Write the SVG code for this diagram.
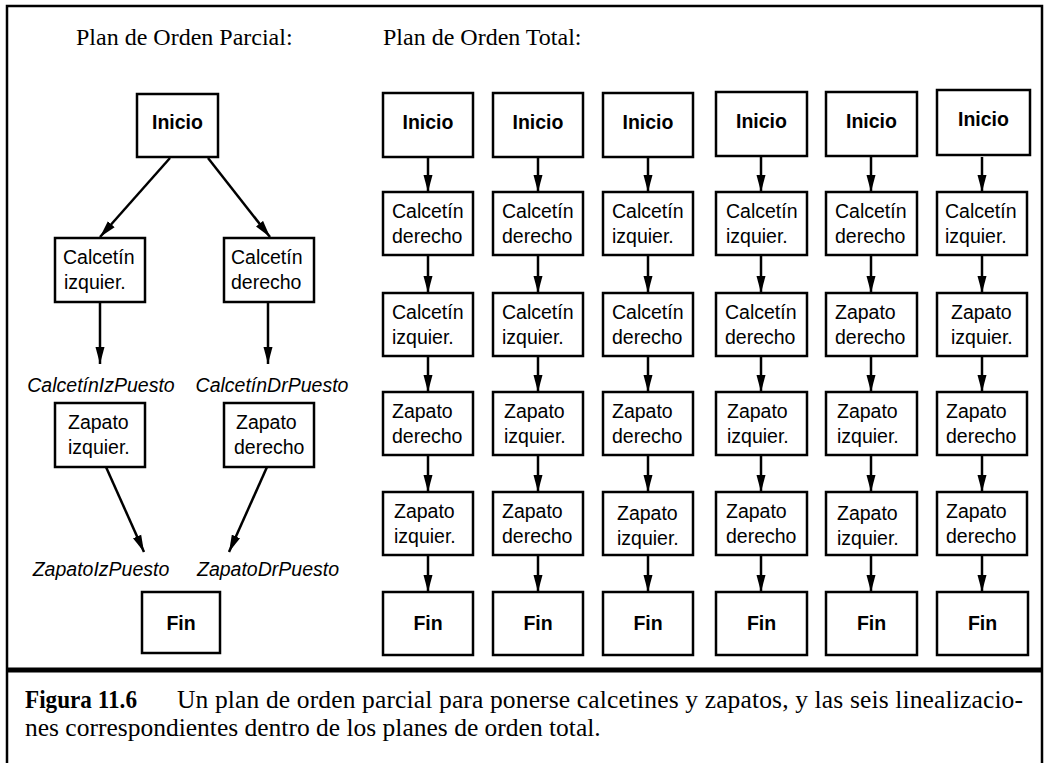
<svg xmlns="http://www.w3.org/2000/svg" width="1048" height="763" viewBox="0 0 1048 763">
<style>
.b{fill:#fff;stroke:#000;stroke-width:2.5}
.t{font-family:"Liberation Sans",Arial,Helvetica,sans-serif;font-size:19.5px;fill:#000}
.bd{font-weight:bold;text-anchor:middle}
.it{font-style:italic;text-anchor:middle}
.ttl{font-family:"Liberation Serif","Times New Roman",serif;font-size:24px;fill:#000}
.cap{font-family:"Liberation Serif","Times New Roman",serif;font-size:25.5px;fill:#000}
.c line{stroke:#000;stroke-width:2.5;marker-end:url(#ah)}
.frame{stroke:#000;fill:none}
</style>
<defs>
<marker id="ah" markerWidth="18" markerHeight="10" refX="17" refY="5" orient="auto" markerUnits="userSpaceOnUse">
<path d="M0,0.5 L17,5 L0,9.5 z" fill="#000"/>
</marker>
</defs>
<rect width="1048" height="763" fill="#fff"/>
<g id="frame">
<path class="frame" stroke-width="2.5" d="M7,763 V6 H1042 V763"/>
<line class="frame" x1="7" y1="670" x2="1042" y2="670" stroke-width="5"/>
</g>
<g id="titles">
<text class="ttl" x="76" y="45">Plan de Orden Parcial:</text>
<text class="ttl" x="383" y="45">Plan de Orden Total:</text>
</g>
<g id="connectors" class="c">
<line x1="170" y1="158" x2="100" y2="237"/>
<line x1="208" y1="158" x2="270" y2="237"/>
<line x1="100" y1="302" x2="100" y2="364"/>
<line x1="268" y1="302" x2="268" y2="364"/>
<line x1="106" y1="467" x2="144" y2="552"/>
<line x1="267" y1="467" x2="229" y2="552"/>
<line x1="428" y1="157" x2="428" y2="192"/><line x1="428" y1="255" x2="428" y2="293"/><line x1="428" y1="356" x2="428" y2="392"/><line x1="428" y1="455" x2="428" y2="492"/><line x1="428" y1="555" x2="428" y2="592"/>
<line x1="538" y1="157" x2="538" y2="192"/><line x1="538" y1="255" x2="538" y2="293"/><line x1="538" y1="356" x2="538" y2="392"/><line x1="538" y1="455" x2="538" y2="492"/><line x1="538" y1="555" x2="538" y2="592"/>
<line x1="648" y1="157" x2="648" y2="192"/><line x1="648" y1="255" x2="648" y2="293"/><line x1="648" y1="356" x2="648" y2="392"/><line x1="648" y1="455" x2="648" y2="492"/><line x1="648" y1="555" x2="648" y2="592"/>
<line x1="761" y1="157" x2="761" y2="192"/><line x1="761" y1="255" x2="761" y2="293"/><line x1="761" y1="356" x2="761" y2="392"/><line x1="761" y1="455" x2="761" y2="492"/><line x1="761" y1="555" x2="761" y2="592"/>
<line x1="871" y1="157" x2="871" y2="192"/><line x1="871" y1="255" x2="871" y2="293"/><line x1="871" y1="356" x2="871" y2="392"/><line x1="871" y1="455" x2="871" y2="492"/><line x1="871" y1="555" x2="871" y2="592"/>
<line x1="982" y1="157" x2="982" y2="192"/><line x1="982" y1="255" x2="982" y2="293"/><line x1="982" y1="356" x2="982" y2="392"/><line x1="982" y1="455" x2="982" y2="492"/><line x1="982" y1="555" x2="982" y2="592"/>
</g>
<!-- Partial order plan -->
<g id="p-inicio"><rect class="b" x="137" y="94" width="81" height="63"/><text class="t bd" x="177.5" y="129">Inicio</text></g>
<g id="p-ci"><rect class="b" x="55" y="238" width="90" height="64"/><text class="t" x="63" y="264">Calcetín</text><text class="t" x="64" y="289">izquier.</text></g>
<g id="p-cd"><rect class="b" x="224" y="238" width="90" height="64"/><text class="t" x="231" y="264">Calcetín</text><text class="t" x="231" y="289">derecho</text></g>
<g id="p-lci"><text class="t it" x="101" y="392">CalcetínIzPuesto</text></g>
<g id="p-lcd"><text class="t it" x="272" y="392">CalcetínDrPuesto</text></g>
<g id="p-zi"><rect class="b" x="55" y="403" width="90" height="64"/><text class="t" x="68" y="429">Zapato</text><text class="t" x="68" y="454">izquier.</text></g>
<g id="p-zd"><rect class="b" x="224" y="403" width="90" height="64"/><text class="t" x="236" y="429">Zapato</text><text class="t" x="234" y="454">derecho</text></g>
<g id="p-lzi"><text class="t it" x="101" y="576">ZapatoIzPuesto</text></g>
<g id="p-lzd"><text class="t it" x="268" y="576">ZapatoDrPuesto</text></g>
<g id="p-fin"><rect class="b" x="142" y="592" width="78" height="61" stroke-width="2"/><text class="t bd" x="181" y="630">Fin</text></g>
<!-- Total order plans -->
<g id="c1-inicio"><rect class="b" x="383" y="93" width="90" height="64"/><text class="t bd" x="428" y="129">Inicio</text></g>
<g id="c1-n1"><rect class="b" x="383" y="192" width="90" height="63"/><text class="t" x="392" y="218">Calcetín</text><text class="t" x="392" y="243">derecho</text></g>
<g id="c1-n2"><rect class="b" x="383" y="293" width="90" height="63"/><text class="t" x="392" y="319">Calcetín</text><text class="t" x="392" y="344">izquier.</text></g>
<g id="c1-n3"><rect class="b" x="383" y="392" width="90" height="63"/><text class="t" x="392" y="418">Zapato</text><text class="t" x="392" y="443">derecho</text></g>
<g id="c1-n4"><rect class="b" x="383" y="492" width="90" height="63"/><text class="t" x="394" y="518">Zapato</text><text class="t" x="394" y="543">izquier.</text></g>
<g id="c1-fin"><rect class="b" x="383" y="592" width="90" height="63"/><text class="t bd" x="428" y="630">Fin</text></g>

<g id="c2-inicio"><rect class="b" x="493" y="93" width="90" height="64"/><text class="t bd" x="538" y="129">Inicio</text></g>
<g id="c2-n1"><rect class="b" x="493" y="192" width="90" height="63"/><text class="t" x="502" y="218">Calcetín</text><text class="t" x="502" y="243">derecho</text></g>
<g id="c2-n2"><rect class="b" x="493" y="293" width="90" height="63"/><text class="t" x="502" y="319">Calcetín</text><text class="t" x="502" y="344">izquier.</text></g>
<g id="c2-n3"><rect class="b" x="493" y="392" width="90" height="63"/><text class="t" x="504" y="418">Zapato</text><text class="t" x="504" y="443">izquier.</text></g>
<g id="c2-n4"><rect class="b" x="493" y="492" width="90" height="63"/><text class="t" x="502" y="518">Zapato</text><text class="t" x="502" y="543">derecho</text></g>
<g id="c2-fin"><rect class="b" x="493" y="592" width="90" height="63"/><text class="t bd" x="538" y="630">Fin</text></g>

<g id="c3-inicio"><rect class="b" x="603" y="93" width="90" height="64"/><text class="t bd" x="648" y="129">Inicio</text></g>
<g id="c3-n1"><rect class="b" x="603" y="192" width="90" height="63"/><text class="t" x="612" y="218">Calcetín</text><text class="t" x="612" y="243">izquier.</text></g>
<g id="c3-n2"><rect class="b" x="603" y="293" width="90" height="63"/><text class="t" x="612" y="319">Calcetín</text><text class="t" x="612" y="344">derecho</text></g>
<g id="c3-n3"><rect class="b" x="603" y="392" width="90" height="63"/><text class="t" x="612" y="418">Zapato</text><text class="t" x="612" y="443">derecho</text></g>
<g id="c3-n4"><rect class="b" x="603" y="492" width="90" height="63"/><text class="t" x="617" y="520">Zapato</text><text class="t" x="617" y="545">izquier.</text></g>
<g id="c3-fin"><rect class="b" x="603" y="592" width="90" height="63"/><text class="t bd" x="648" y="630">Fin</text></g>

<g id="c4-inicio"><rect class="b" x="716" y="92" width="91" height="64"/><text class="t bd" x="761.5" y="128">Inicio</text></g>
<g id="c4-n1"><rect class="b" x="716" y="192" width="91" height="63"/><text class="t" x="726" y="218">Calcetín</text><text class="t" x="726" y="243">izquier.</text></g>
<g id="c4-n2"><rect class="b" x="716" y="293" width="91" height="63"/><text class="t" x="725" y="319">Calcetín</text><text class="t" x="725" y="344">derecho</text></g>
<g id="c4-n3"><rect class="b" x="716" y="392" width="91" height="63"/><text class="t" x="727" y="418">Zapato</text><text class="t" x="727" y="443">izquier.</text></g>
<g id="c4-n4"><rect class="b" x="716" y="492" width="91" height="63"/><text class="t" x="726" y="518">Zapato</text><text class="t" x="726" y="543">derecho</text></g>
<g id="c4-fin"><rect class="b" x="716" y="592" width="91" height="63"/><text class="t bd" x="761.5" y="630">Fin</text></g>

<g id="c5-inicio"><rect class="b" x="826" y="92" width="91" height="64"/><text class="t bd" x="871.5" y="128">Inicio</text></g>
<g id="c5-n1"><rect class="b" x="826" y="192" width="91" height="63"/><text class="t" x="835" y="218">Calcetín</text><text class="t" x="835" y="243">derecho</text></g>
<g id="c5-n2"><rect class="b" x="826" y="293" width="91" height="63"/><text class="t" x="835" y="319">Zapato</text><text class="t" x="835" y="344">derecho</text></g>
<g id="c5-n3"><rect class="b" x="826" y="392" width="91" height="63"/><text class="t" x="837" y="418">Zapato</text><text class="t" x="837" y="443">izquier.</text></g>
<g id="c5-n4"><rect class="b" x="826" y="492" width="91" height="63"/><text class="t" x="837" y="520">Zapato</text><text class="t" x="837" y="545">izquier.</text></g>
<g id="c5-fin"><rect class="b" x="826" y="592" width="91" height="63"/><text class="t bd" x="871.5" y="630">Fin</text></g>

<g id="c6-inicio"><rect class="b" x="937" y="90" width="93" height="65"/><text class="t bd" x="983.5" y="126">Inicio</text></g>
<g id="c6-n1"><rect class="b" x="937" y="192" width="90" height="63"/><text class="t" x="945" y="218">Calcetín</text><text class="t" x="945" y="243">izquier.</text></g>
<g id="c6-n2"><rect class="b" x="937" y="293" width="90" height="63"/><text class="t" x="951" y="319">Zapato</text><text class="t" x="951" y="344">izquier.</text></g>
<g id="c6-n3"><rect class="b" x="937" y="392" width="90" height="63"/><text class="t" x="946" y="418">Zapato</text><text class="t" x="946" y="443">derecho</text></g>
<g id="c6-n4"><rect class="b" x="937" y="492" width="90" height="63"/><text class="t" x="946" y="518">Zapato</text><text class="t" x="946" y="543">derecho</text></g>
<g id="c6-fin"><rect class="b" x="937" y="592" width="91" height="63"/><text class="t bd" x="982.5" y="630">Fin</text></g>

<g id="caption">
<text class="cap" x="25" y="708" font-weight="bold" textLength="112" lengthAdjust="spacingAndGlyphs">Figura 11.6</text>
<text class="cap" x="177" y="708" textLength="846" lengthAdjust="spacing">Un plan de orden parcial para ponerse calcetines y zapatos, y las seis linealizacio-</text>
<text class="cap" x="25" y="736">nes correspondientes dentro de los planes de orden total.</text>
</g>
</svg>
